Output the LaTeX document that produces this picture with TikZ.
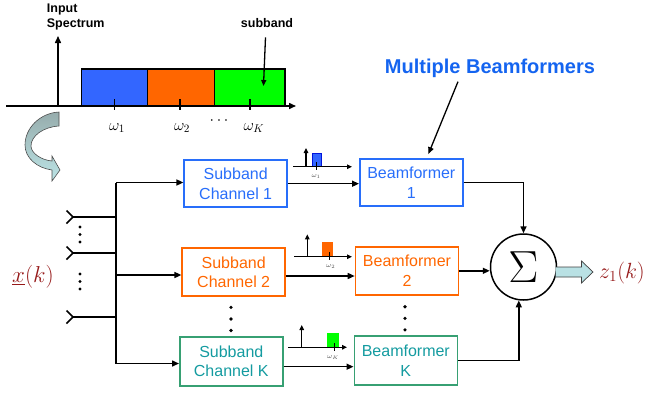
\RequirePackage{fix-cm}
\documentclass[tikz,border=0pt]{standalone}
\usepackage{fontspec}
\setmainfont{Liberation Sans}
\usetikzlibrary{arrows.meta,calc}
\definecolor{cblue}{RGB}{40,110,250}
\definecolor{corange}{RGB}{255,102,0}
\definecolor{cgreenb}{RGB}{55,160,115}
\definecolor{cgreent}{RGB}{20,155,160}
\definecolor{sblue}{RGB}{51,102,255}
\definecolor{sdblue}{RGB}{0,20,220}
\definecolor{sgreen}{RGB}{0,255,0}
\definecolor{dred}{RGB}{150,25,25}
\definecolor{mbblue}{RGB}{20,100,240}
\definecolor{tealtop}{RGB}{150,172,172}
\definecolor{tealbot}{RGB}{188,228,230}
\definecolor{tealfill}{RGB}{185,225,228}
\begin{document}
\begin{tikzpicture}[x=1pt,y=-1pt,
  box/.style={draw, line width=1.6pt, minimum width=103pt, minimum height=47pt,
    align=center, inner sep=0pt, font=\fontsize{16}{19.5}\selectfont},
  ln/.style={line width=1.5pt},
  arr/.style={ln, -{Triangle[length=7pt,width=6pt]}},
  sarr/.style={line width=1.2pt, -{Triangle[length=5pt,width=4.5pt]}},
  lbl/.style={font=\fontsize{12.5}{15}\selectfont\bfseries, inner sep=0pt},
  dot/.style={circle, fill=black, inner sep=0pt, minimum size=3.6pt},
]
\useasboundingbox (0,0) rectangle (646,392);

% ---------- top input spectrum ----------
\fill[sblue] (81.7,69) rectangle (147.3,106);
\fill[corange] (147.3,69) rectangle (214.3,106);
\fill[sgreen] (214.3,69) rectangle (285,106);
\draw[line width=1.3pt] (81.7,69) rectangle (147.3,106);
\draw[line width=1.3pt] (147.3,69) rectangle (214.3,106);
\draw[line width=1.3pt] (214.3,69) rectangle (285,106);
\draw[ln, -{Triangle[length=7pt,width=6pt]}] (6,106) -- (296,106);
\draw[ln, -{Triangle[length=7pt,width=6pt]}] (58,106) -- (58,36);
\foreach \x in {114.3,180,250} \draw[ln] (\x,99) -- (\x,110);
\node[font=\fontsize{16}{18}\selectfont] (w1) at (117,128) {$\omega_1$};
\node[font=\fontsize{16}{18}\selectfont] (w2) at (182,128) {$\omega_2$};
\node[font=\fontsize{16}{18}\selectfont] (wd) at (219,121) {$\cdots$};
\node[font=\fontsize{16}{18}\selectfont] (wK) at (254,128) {$\omega_K$};
\node[lbl, anchor=base west] (in1t) at (46.7,12) {Input};
\node[lbl, anchor=base west] (in2t) at (46.7,27) {Spectrum};
\node[lbl, anchor=base] (subt) at (267,27) {subband};
\coordinate (subend) at (263.5,86);
\draw[line width=1.3pt, -{Triangle[length=6pt,width=5pt]}] ($(subt.south)+(-1.5,10)$) -- (subend);

% ---------- curved arrow ----------
\shade[top color=tealtop, bottom color=tealbot, draw=black!70, line width=0.6pt]
  (59,112) .. controls (40,113) and (25,128) .. (25,145)
  .. controls (25,158) and (37,168) .. (52,170)
  -- (52,181) -- (60,170) -- (52,156) -- (52,161)
  .. controls (41,160) and (31,153) .. (31,146)
  .. controls (31,136) and (43,127) .. (59,126) -- cycle;

% ---------- boxes ----------
\node[box, draw=cblue, text=cblue] (sc1) at (235.7,183.7) {Subband\\Channel 1};
\node[box, draw=cblue, text=cblue] (bf1) at (411.3,182.5) {Beamformer\\1};
\node[box, draw=corange, text=corange, minimum height=48pt] (sc2) at (233.7,272.2) {Subband\\Channel 2};
\node[box, draw=corange, text=corange, minimum height=48pt] (bf2) at (407,270.8) {Beamformer\\2};
\node[box, draw=cgreenb, text=cgreent, minimum height=49pt] (scK) at (231.3,361.5) {Subband\\Channel K};
\node[box, draw=cgreenb, text=cgreent, minimum height=49pt] (bfK) at (405.8,360.5) {Beamformer\\K};

% dots between boxes
\foreach \y [count=\i] in {307.3,319,330.5} {
  \node[dot] (dl\i) at (231,\y) {};
  \node[dot] (dr\i) at (405,\y-0.6) {};
}

% ---------- inputs and bus ----------
\coordinate (i1) at (73,217);
\coordinate (i2) at (73,253);
\coordinate (i3) at (73,317);
\foreach \c in {i1,i2,i3} {
  \draw[ln, line join=miter] ($(\c)+(-6.5,-6.5)$) -- (\c) -- ($(\c)+(-6.5,6.5)$);
}
\coordinate (b1) at (116,217);
\coordinate (b2) at (116,253);
\coordinate (b3) at (116,317);
\coordinate (btop) at (116,182.5);
\coordinate (bmid) at (116,275);
\coordinate (bbot) at (116,363.5);
\draw[ln] (i1) -- (b1);
\draw[ln] (i2) -- (b2);
\draw[ln] (i3) -- (b3);
\draw[ln] (btop) -- (bbot);
\draw[arr] (btop) -- (btop -| sc1.west);
\draw[arr] (bmid) -- (bmid -| sc2.west);
\draw[arr] (bbot) -- (bbot -| scK.west);
\foreach \y [count=\i] in {227,234.5,242} \node[dot, minimum size=3.2pt] (da\i) at (80,\y) {};
\foreach \y [count=\i] in {274,281.5,289} \node[dot, minimum size=3.2pt] (db\i) at (80,\y) {};
\node[text=dred, font=\fontsize{23}{25}\selectfont] (xk) at (33,277) {$\underline{x}(k)$};

% ---------- channel -> beamformer ----------
\draw[arr] (sc1.east) -- (sc1.east -| bf1.west);
\draw[arr] ($(sc2.east)+(0,3.8)$) -- ($(sc2.east -| bf2.west)+(0,3.8)$);
\draw[arr] ($(scK.east)+(0,5.2)$) -- ($(scK.east -| bfK.west)+(0,5.2)$);

% ---------- small spectra ----------
% 1
\fill[sblue] (312.3,153.3) rectangle (321,166.7);
\draw[sdblue, line width=1pt] (312.3,153.3) rectangle (321,166.7);
\draw[sarr] (293,166.7) -- (352,166.7);
\draw[sarr] (306,166.7) -- (306,148);
\draw[line width=1pt] (316.7,162) -- (316.7,170);
\node[font=\fontsize{7}{8}\selectfont, text=black!70] (sw1) at (316,176) {$\omega_1$};
% 2
\fill[corange] (321.7,241.7) rectangle (332.7,256.7);
\draw[sarr] (294,256.7) -- (352,256.7);
\draw[sarr] (307.3,256.7) -- (307.3,234.3);
\draw[line width=1pt] (329,252) -- (329,260);
\node[font=\fontsize{7}{8}\selectfont, text=black!70] (sw2) at (330.7,266) {$\omega_2$};
% K
\fill[sgreen] (326.7,333.3) rectangle (339.3,348.3);
\draw[sarr] (288.3,347.3) -- (347,347.3);
\draw[sarr] (301.7,347.3) -- (301.7,325);
\draw[line width=1pt] (334.3,343) -- (334.3,351);
\node[font=\fontsize{7}{8}\selectfont, text=black!70] (swK) at (333,357) {$\omega_K$};

% ---------- sum ----------
\node[draw, circle, line width=1.5pt, minimum size=66pt, inner sep=0pt] (sum) at (523.5,267)
  {\fontsize{45}{48}\selectfont$\Sigma$};
\draw[arr] (bf1.east) -| (sum.north);
\draw[arr] (bf2.east) -- (bf2.east -| sum.west);
\draw[arr] (bfK.east) -| (sum.262);

% output block arrow
\coordinate (oa) at (555.5,272);
\draw[fill=tealfill, draw=black!75, line width=0.7pt]
  ($(oa)+(0,-5)$) -- ($(oa)+(26,-5)$) -- ($(oa)+(26,-11)$) -- ($(oa)+(37.5,0)$)
  -- ($(oa)+(26,11)$) -- ($(oa)+(26,5)$) -- ($(oa)+(0,5)$);
\node[text=dred, font=\fontsize{22}{24}\selectfont] (zk) at (622,273) {$z_1(k)$};

% ---------- multiple beamformers ----------
\node[text=mbblue, font=\fontsize{20}{24}\selectfont\bfseries, anchor=base, inner sep=0pt]
  (mb) at (490,73.3) {Multiple Beamformers};
\draw[line width=1.3pt, -{Triangle[length=7pt,width=5.5pt]}] ($(mb.south)+(-32,4)$) -- ($(bf1.north)+(17,-4)$);
\end{tikzpicture}
\end{document}
